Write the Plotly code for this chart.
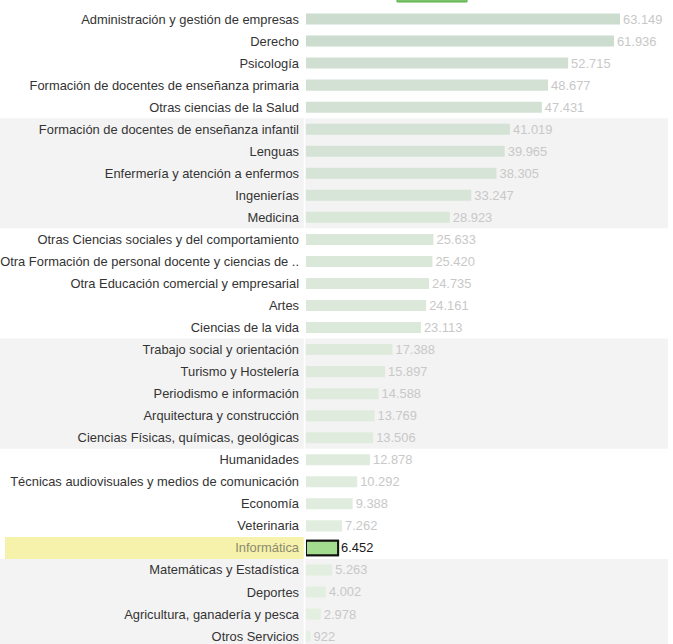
import plotly.graph_objects as go

categories = [
    "Administración y gestión de empresas", "Derecho", "Psicología",
    "Formación de docentes de enseñanza primaria", "Otras ciencias de la Salud",
    "Formación de docentes de enseñanza infantil", "Lenguas",
    "Enfermería y atención a enfermos", "Ingenierías", "Medicina",
    "Otras Ciencias sociales y del comportamiento",
    "Otra Formación de personal docente y ciencias de ..",
    "Otra Educación comercial y empresarial", "Artes", "Ciencias de la vida",
    "Trabajo social y orientación", "Turismo y Hostelería",
    "Periodismo e información", "Arquitectura y construcción",
    "Ciencias Físicas, químicas, geológicas", "Humanidades",
    "Técnicas audiovisuales y medios de comunicación", "Economía",
    "Veterinaria", "Informática", "Matemáticas y Estadística", "Deportes",
    "Agricultura, ganadería y pesca", "Otros Servicios",
]
values = [63149, 61936, 52715, 48677, 47431, 41019, 39965, 38305, 33247, 28923,
          25633, 25420, 24735, 24161, 23113, 17388, 15897, 14588, 13769, 13506,
          12878, 10292, 9388, 7262, 6452, 5263, 4002, 2978, 922]
highlight = "Informática"

W, H = 673, 644
L, R, T = 306, 5, 8
plot_w = W - L - R
n = len(categories)
ypos = list(range(n))
hi = categories.index(highlight)

FONT = "Liberation Sans, Arial"
bar_w = [0.66 if c == highlight else 0.5 for c in categories]
line_w = [2 if c == highlight else 0 for c in categories]
text_colors = ["#1a1a1a" if c == highlight else "#c8c8c8" for c in categories]

fig = go.Figure()
fig.add_trace(go.Bar(
    y=ypos, x=values, orientation="h", width=bar_w,
    marker=dict(color=values, colorscale=[[0, "#e4f0e1"], [1, "#ccdccf"]],
                cmin=0, cmax=max(values),
                line=dict(width=line_w, color="#111111")),
    texttemplate="%{x:,}", textposition="outside", constraintext="none",
    textfont=dict(family=FONT, size=12.9, color=text_colors),
    cliponaxis=False, showlegend=False,
))
fig.add_trace(go.Bar(
    y=[ypos[hi]], x=[values[hi]], orientation="h", width=0.66,
    marker=dict(color="#a3dc8e", line=dict(width=2, color="#111111")),
    hoverinfo="skip", showlegend=False,
))

shapes = []
x_left = -L / plot_w
for start in range(5, n, 10):
    shapes.append(dict(type="rect", xref="paper", yref="y", layer="below",
                       x0=x_left, x1=1.0, y0=start - 0.5, y1=min(start + 4.5, n + 0.5),
                       fillcolor="#f3f3f3", line=dict(width=0)))
shapes.append(dict(type="rect", xref="paper", yref="y", layer="below",
                   x0=(5 - L) / plot_w, x1=(305 - L) / plot_w,
                   y0=hi - 0.5, y1=hi + 0.5, fillcolor="#f6f2ab", line=dict(width=0)))
shapes.append(dict(type="line", xref="paper", yref="paper", layer="below",
                   x0=-1.5 / plot_w, x1=-1.5 / plot_w, y0=0, y1=1,
                   line=dict(color="#ffffff", width=1.5)))
shapes.append(dict(type="rect", xref="paper", yref="paper",
                   x0=(397 - L) / plot_w, x1=(467 - L) / plot_w,
                   y0=1 + (T - 2) / (H - T), y1=1 + (T + 2) / (H - T),
                   fillcolor="#7cc46a", line=dict(color="#5aae4a", width=1)))

ticktext = [f"<span style='color:#8a8a70'>{c}</span>" if c == highlight else c
            for c in categories]

fig.update_layout(
    width=W, height=H,
    margin=dict(l=L, r=R, t=T, b=0, pad=0),
    plot_bgcolor="rgba(0,0,0,0)", paper_bgcolor="#ffffff",
    separators=",.", barmode="overlay",
    font=dict(family=FONT, size=12.9, color="#333333"),
    xaxis=dict(range=[0, 63149 * plot_w / 314], visible=False, showgrid=False,
               zeroline=False, fixedrange=True),
    yaxis=dict(range=[28.36, -0.5], tickmode="array", tickvals=ypos, ticktext=ticktext,
               showgrid=False, zeroline=False, showline=False, ticks="",
               ticklabelstandoff=6,
               tickfont=dict(family=FONT, size=12.9, color="#333333")),
    shapes=shapes,
)

fig.write_html("out.html")
